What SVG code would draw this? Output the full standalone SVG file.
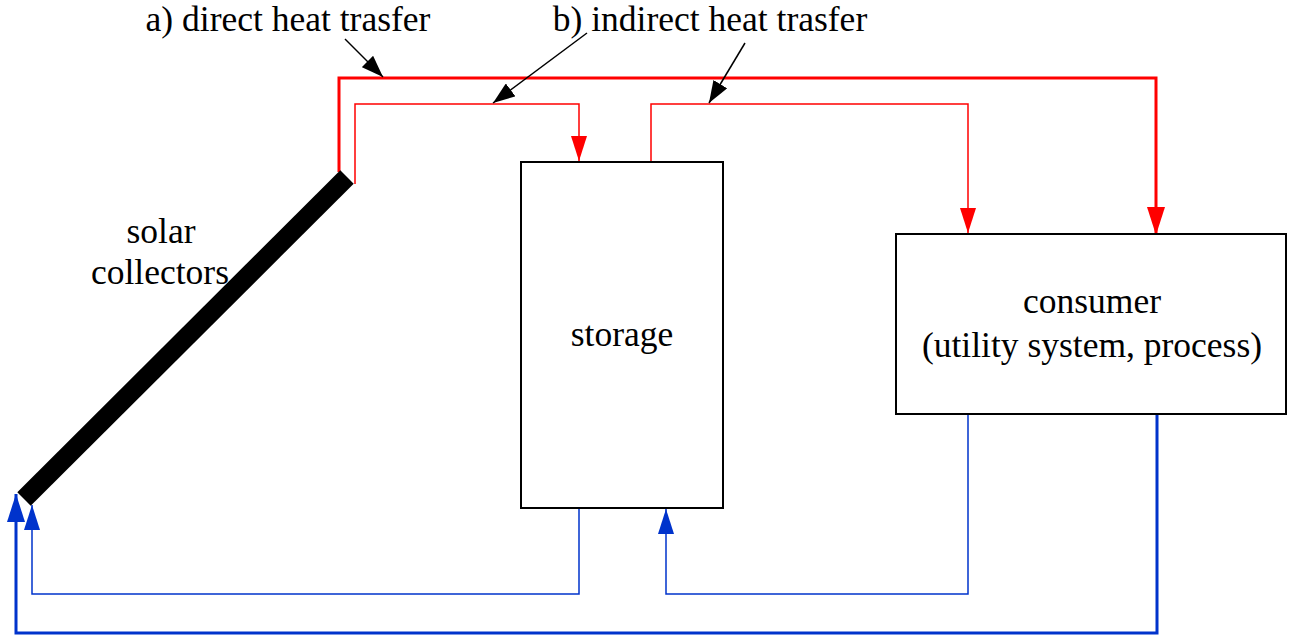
<svg xmlns="http://www.w3.org/2000/svg" width="1295" height="637" viewBox="0 0 1295 637">
<style>
text{font-family:"Liberation Serif","Times New Roman",Tinos,"DejaVu Serif",serif;font-size:35.5px;fill:#000;text-anchor:middle}
.box{fill:#fff;stroke:#000;stroke-width:2}
.hotT{fill:none;stroke:#ff0000;stroke-width:3}
.hot{fill:none;stroke:#ff0000;stroke-width:1.5}
.coldT{fill:none;stroke:#0033cc;stroke-width:3}
.cold{fill:none;stroke:#0033cc;stroke-width:1.5}
.ann{fill:none;stroke:#000;stroke-width:1.5}
</style>
<defs>
<marker id="rt" markerUnits="userSpaceOnUse" markerWidth="28" markerHeight="18" refX="28" refY="9" orient="auto" viewBox="0 0 28 18"><path d="M0,0 L28,9 L0,18 Z" fill="#ff0000"/></marker>
<marker id="r" markerUnits="userSpaceOnUse" markerWidth="25" markerHeight="16" refX="25" refY="8" orient="auto" viewBox="0 0 25 16"><path d="M0,0 L25,8 L0,16 Z" fill="#ff0000"/></marker>
<marker id="bt" markerUnits="userSpaceOnUse" markerWidth="28" markerHeight="18" refX="28" refY="9" orient="auto" viewBox="0 0 28 18"><path d="M0,0 L28,9 L0,18 Z" fill="#0033cc"/></marker>
<marker id="b" markerUnits="userSpaceOnUse" markerWidth="25" markerHeight="16" refX="25" refY="8" orient="auto" viewBox="0 0 25 16"><path d="M0,0 L25,8 L0,16 Z" fill="#0033cc"/></marker>
<marker id="k" markerUnits="userSpaceOnUse" markerWidth="22" markerHeight="16" refX="22" refY="8" orient="auto" viewBox="0 0 22 16"><path d="M0,0 L22,8 L0,16 Z" fill="#000"/></marker>
</defs>
<g id="connectors">
<path class="hotT" d="M339,172 V78 H1156 V235" marker-end="url(#rt)"/>
<path class="hot" d="M355,184 V104 H579 V161" marker-end="url(#r)"/>
<path class="hot" d="M651,162 V104 H968 V233" marker-end="url(#r)"/>
<path class="cold" d="M579,508 V594 H32 V505" marker-end="url(#b)"/>
<path class="cold" d="M968,414 V594 H666 V509" marker-end="url(#b)"/>
<path class="coldT" d="M1157,414 V633 H16 V494" marker-end="url(#bt)"/>
<path class="ann" d="M345,39 L383,77" marker-end="url(#k)"/>
<path class="ann" d="M587,33 L493,103" marker-end="url(#k)"/>
<path class="ann" d="M745,43 L709,103" marker-end="url(#k)"/>
</g>
<g id="collectors">
<line x1="24" y1="499" x2="347" y2="177" stroke="#000" stroke-width="19"/>
<text x="161" y="243">solar</text>
<text x="160" y="284">collectors</text>
</g>
<g id="storage">
<rect class="box" x="521" y="162" width="202" height="346"/>
<text x="622" y="346">storage</text>
</g>
<g id="consumer">
<rect class="box" x="896" y="234" width="390" height="180"/>
<text x="1092" y="313">consumer</text>
<text x="1092" y="357">(utility system, process)</text>
</g>
<g id="labels">
<text x="288" y="31">a) direct heat trasfer</text>
<text x="710" y="31">b) indirect heat trasfer</text>
</g>
</svg>
